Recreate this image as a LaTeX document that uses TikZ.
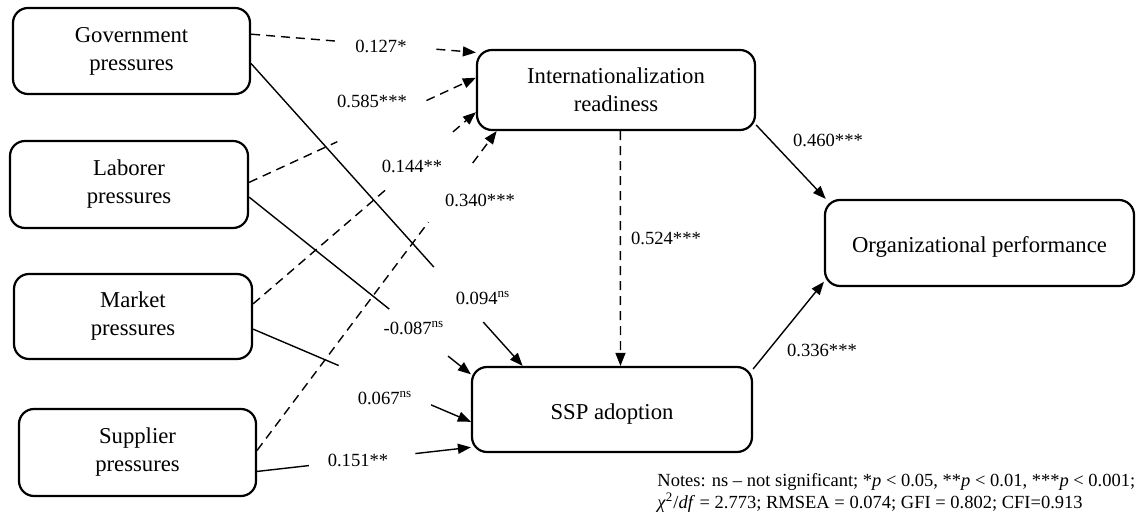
\documentclass[tikz,border=0pt]{standalone}
\usepackage{fontspec}
\setmainfont{Liberation Serif}
\usetikzlibrary{calc,arrows.meta}
\tikzset{
  box/.style={draw, line width=1.1pt, rounded corners=7.5pt, align=center, inner sep=0pt,
    font=\fontsize{11.35}{14}\selectfont},
  oneline/.style={text height=10pt, text depth=0pt},
  lbl/.style={inner sep=0pt, font=\fontsize{9.3}{11}\selectfont},
  conn/.style={line width=0.7pt, -{Triangle[length=6.5pt,width=5pt]}},
  dconn/.style={conn, dash pattern=on 4.5pt off 3pt},
  note/.style={inner sep=0pt, anchor=base west, font=\fontsize{9.25}{11}\selectfont},
}
\newcommand\gapdraw[5]{\draw[#1] (#2) -- ($(#2)!#4!(#3)$) ($(#2)!#5!(#3)$) -- (#3);}
\begin{document}
\begin{tikzpicture}[x=0.5pt,y=-0.5pt]
\useasboundingbox (0,0) rectangle (1137,517);
% boxes
\node[box, minimum width=118.5pt, minimum height=43pt] (gov) at (131.5,51) {Government\\pressures};
\node[box, minimum width=119pt, minimum height=43.5pt] (lab) at (129,184.5) {Laborer\\pressures};
\node[box, minimum width=119pt, minimum height=42.5pt] (mkt) at (133,316.5) {Market\\pressures};
\node[box, minimum width=118.5pt, minimum height=43.5pt] (sup) at (137.5,452.5) {Supplier\\pressures};
\node[box, minimum width=139pt, minimum height=40pt] (int) at (616,90) {Internationalization\\readiness};
\node[box, oneline, minimum width=140pt, minimum height=42.5pt] (ssp) at (612,409.5) {SSP adoption};
\node[box, oneline, minimum width=154.5pt, minimum height=43pt] (org) at (979.5,243) {Organizational performance};
% labels
\node[lbl] (l1) at (381,46) {0.127*};
\node[lbl] (l2) at (372,101) {0.585***};
\node[lbl] (l3) at (412,166) {0.144**};
\node[lbl] (l4) at (480,200) {0.340***};
\node[lbl] (l5) at (483,298) {0.094\textsuperscript{ns}};
\node[lbl] (l6) at (414,328) {-0.087\textsuperscript{ns}};
\node[lbl] (l7) at (385,398) {0.067\textsuperscript{ns}};
\node[lbl] (l8) at (358,460) {0.151**};
\node[lbl] (l9) at (828,140) {0.460***};
\node[lbl] (l10) at (666,238) {0.524***};
\node[lbl] (l11) at (822,350) {0.336***};
% connectors
\gapdraw{dconn}{gov.8.16}{int.165.1}{0.383}{0.824}
\gapdraw{conn}{gov.-6.7}{ssp.154.7}{0.673}{0.855}
\gapdraw{dconn}{lab.1.7}{int.175.1}{0.389}{0.782}
\gapdraw{conn}{lab.-6.5}{ssp.166.9}{0.632}{0.897}
\gapdraw{dconn}{mkt.6.5}{int.189.7}{0.603}{0.897}
\gapdraw{conn}{mkt.-6.5}{ssp.185.9}{0.393}{0.817}
\gapdraw{dconn}{sup.1.2}{int.199.8}{0.715}{0.9}
\gapdraw{conn}{sup.-9.7}{ssp.195.9}{0.242}{0.74}
\draw[dconn] (int.-84.3) -- (ssp.79.3);
\draw[conn] (int.-14.9) -- (org.164.95);
\draw[conn] (ssp.16.97) -- (org.194.9);
% notes
\node[note] (n1) at (657,487) {Notes: ns -- not significant; *\textit{p} < 0.05, **\textit{p} < 0.01, ***\textit{p} < 0.001;};
\node[note] (n2) at (657,509) {\textit{χ}\textsuperscript{2}/\textit{df} = 2.773; RMSEA = 0.074; GFI = 0.802; CFI=0.913};
\end{tikzpicture}
\end{document}
